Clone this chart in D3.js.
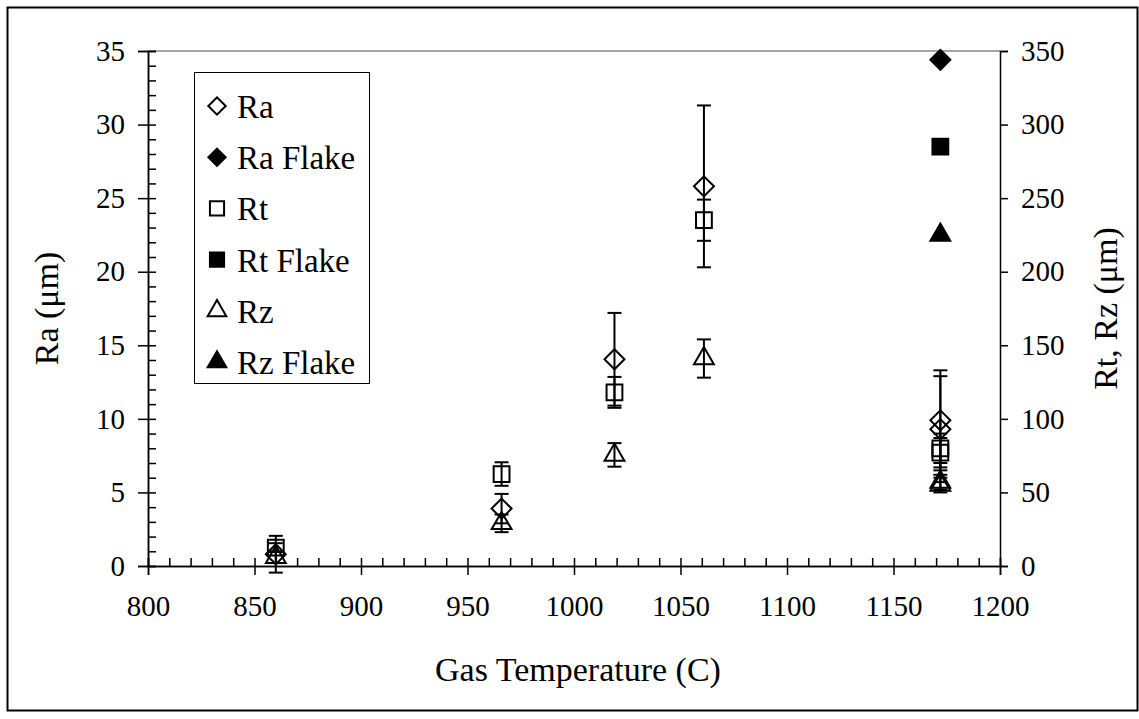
<!DOCTYPE html>
<html>
<head>
<meta charset="utf-8">
<script src="https://cdn.jsdelivr.net/npm/d3@7"></script>
<style>
  body { margin: 0; background: #fff; }
  svg text { font-family: "Liberation Serif", "Times New Roman", Times, "DejaVu Serif", serif; fill: #000; }
</style>
</head>
<body>
<div id="chart"></div>
<script>
// data
const temps  = [860, 966, 1019, 1061, 1172, 1172];
const ra     = [0.8, 3.9, 14.05, 25.8, 9.9, 9.3];
const raErr  = [1.25, 1.0, 3.15, 5.5, 3.4, 3.6];
const rt     = [12.5, 62.5, 118, 235, 80, 77];
const rtErr  = [3, 8, 10.5, 14, 10, 10];
const rz     = [6, 29, 75.5, 141, 57, 55];
const rzErr  = [4, 6, 8, 13, 5, 5];

const flakeTemp = [1172];
const raFlake   = [34.4];
const rtFlake   = [285];
const rzFlake   = [225];

const xTicks      = [800, 850, 900, 950, 1000, 1050, 1100, 1150, 1200];
const yLeftTicks  = [0, 5, 10, 15, 20, 25, 30, 35];
const yRightTicks = [0, 50, 100, 150, 200, 250, 300, 350];
const legendNames = ["Ra", "Ra Flake", "Rt", "Rt Flake", "Rz", "Rz Flake"];

const FONT = "'Liberation Serif', 'Times New Roman', Times, 'DejaVu Serif', serif";
const width = 1139, height = 719;
const margin = { top: 51, right: 139, bottom: 153, left: 148 };

const svg = d3.select("#chart").append("svg")
  .attr("width", width).attr("height", height)
  .attr("font-family", FONT);

// outer frame
svg.append("rect")
  .attr("x", 7.5).attr("y", 7.5)
  .attr("width", 1130).attr("height", 703)
  .attr("fill", "none").attr("stroke", "#000").attr("stroke-width", 2);

const x = d3.scaleLinear().domain([800, 1200]).range([margin.left, width - margin.right]);
const yL = d3.scaleLinear().domain([0, 35]).range([height - margin.bottom, margin.top]);
const yR = d3.scaleLinear().domain([0, 350]).range([height - margin.bottom, margin.top]);

// top border of plot
svg.append("line")
  .attr("x1", x(800)).attr("x2", x(1200))
  .attr("y1", yL(35)).attr("y2", yL(35))
  .attr("stroke", "#888").attr("stroke-width", 1.5);

function styleAxis(g) {
  g.attr("font-family", FONT);
  g.select(".domain").attr("stroke", "#000").attr("stroke-width", 1.5);
  g.selectAll(".tick line").attr("stroke", "#000").attr("stroke-width", 1.5);
  g.selectAll(".tick text").attr("font-size", 29).attr("font-family", FONT);
}

// left axis: major outward + minor inward
svg.append("g")
  .attr("transform", `translate(${x(800)},0)`)
  .call(d3.axisRight(yL).tickValues(d3.range(0, 36, 1)).tickSize(8).tickFormat(""))
  .call(styleAxis);
svg.append("g")
  .attr("transform", `translate(${x(800)},0)`)
  .call(d3.axisLeft(yL).tickValues(yLeftTicks).tickSize(10).tickPadding(13).tickFormat(d3.format("d")))
  .call(styleAxis);

// bottom axis
svg.append("g")
  .attr("transform", `translate(0,${yL(0)})`)
  .call(d3.axisTop(x).tickValues(d3.range(800, 1201, 10)).tickSize(8).tickFormat(""))
  .call(styleAxis);
svg.append("g")
  .attr("transform", `translate(0,${yL(0)})`)
  .call(d3.axisBottom(x).tickValues(xTicks).tickSize(9).tickPadding(20).tickFormat(d3.format("d")))
  .call(styleAxis);

// right axis
svg.append("g")
  .attr("transform", `translate(${x(1200)},0)`)
  .call(d3.axisRight(yR).tickValues(yRightTicks).tickSize(8).tickPadding(13).tickFormat(d3.format("d")))
  .call(styleAxis);

// axis titles
svg.append("text")
  .attr("transform", `translate(58,${(yL(0) + yL(35)) / 2}) rotate(-90)`)
  .attr("text-anchor", "middle").attr("font-size", 34)
  .text("Ra (\u03bcm)");
svg.append("text")
  .attr("transform", `translate(1117,${(yL(0) + yL(35)) / 2}) rotate(-90)`)
  .attr("text-anchor", "middle").attr("font-size", 34)
  .text("Rt, Rz (\u03bcm)");
svg.append("text")
  .attr("x", (x(800) + x(1200)) / 2 + 4).attr("y", 681)
  .attr("text-anchor", "middle").attr("font-size", 34)
  .text("Gas Temperature (C)");

// symbols
const sym = {
  diamond: d3.symbol().type(d3.symbolSquare).size(200),
  square: d3.symbol().type(d3.symbolSquare).size(250),
  triangle: d3.symbol().type(d3.symbolTriangle).size(170)
};
const rot = { diamond: 45, square: 0, triangle: 0 };

function errorBars(vals, errs, scale) {
  const g = svg.append("g").attr("stroke", "#000").attr("stroke-width", 2);
  temps.forEach((t, i) => {
    const cx = x(t), y1 = scale(vals[i] + errs[i]), y2 = scale(vals[i] - errs[i]);
    g.append("line").attr("x1", cx).attr("x2", cx).attr("y1", y1).attr("y2", y2);
    g.append("line").attr("x1", cx - 7).attr("x2", cx + 7).attr("y1", y1).attr("y2", y1);
    g.append("line").attr("x1", cx - 7).attr("x2", cx + 7).attr("y1", y2).attr("y2", y2);
  });
}

function markers(ts, vals, scale, shape, filled) {
  svg.append("g").selectAll("path")
    .data(vals)
    .join("path")
    .attr("d", sym[shape])
    .attr("transform", (d, i) => `translate(${x(ts[i])},${scale(d)}) rotate(${rot[shape]})`)
    .attr("fill", filled ? "#000" : "none")
    .attr("stroke", "#000")
    .attr("stroke-width", 2);
}

errorBars(ra, raErr, yL);
errorBars(rt, rtErr, yR);
errorBars(rz, rzErr, yR);

markers(temps, ra, yL, "diamond", false);
markers(temps, rt, yR, "square", false);
markers(temps, rz, yR, "triangle", false);
markers(flakeTemp, raFlake, yL, "diamond", true);
markers(flakeTemp, rtFlake, yR, "square", true);
markers(flakeTemp, rzFlake, yR, "triangle", true);

// legend
const lg = svg.append("g");
lg.append("rect")
  .attr("x", 194.5).attr("y", 72.5).attr("width", 175).attr("height", 311)
  .attr("fill", "#fff").attr("stroke", "#000").attr("stroke-width", 1);
const legendShapes = ["diamond", "diamond", "square", "square", "triangle", "triangle"];
const legendSym = {
  diamond: d3.symbol().type(d3.symbolSquare).size(150),
  square: d3.symbol().type(d3.symbolSquare).size(200),
  triangle: d3.symbol().type(d3.symbolTriangle).size(150)
};
legendNames.forEach((name, i) => {
  const cy = 106 + i * 51.2;
  lg.append("path")
    .attr("d", legendSym[legendShapes[i]])
    .attr("transform", `translate(217,${cy}) rotate(${rot[legendShapes[i]]})`)
    .attr("fill", i % 2 ? "#000" : "none")
    .attr("stroke", "#000").attr("stroke-width", 2);
  lg.append("text")
    .attr("x", 237).attr("y", cy + 12)
    .attr("font-size", 33)
    .text(name);
});
</script>
</body>
</html>
